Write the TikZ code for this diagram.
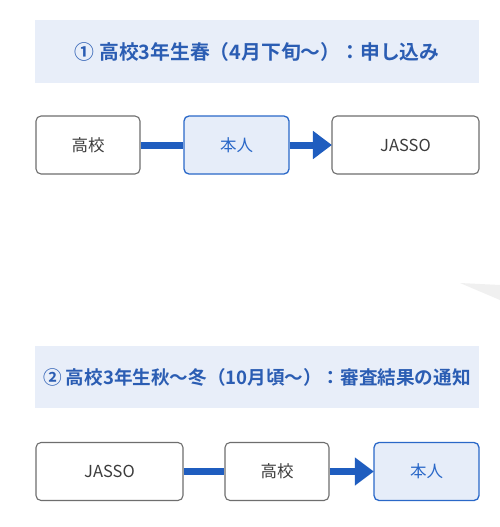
\documentclass[tikz,border=0pt]{standalone}
\usepackage{fontspec}
\setmainfont{Noto Sans CJK JP}
\newfontfamily\jpb{Noto Sans CJK JP Bold}
\usetikzlibrary{arrows.meta}
\definecolor{hdrfill}{HTML}{E8EEF9}
\definecolor{hdrtext}{HTML}{2B5DB3}
\definecolor{boxline}{HTML}{6E6E6E}
\definecolor{boxtext}{HTML}{3C3C3C}
\definecolor{bluefill}{HTML}{E6EDF9}
\definecolor{blueline}{HTML}{2A68C8}
\definecolor{arrowc}{HTML}{1F5DBF}
\tikzset{
  hdr/.style={fill=hdrfill, draw=none, minimum height=62pt, text=hdrtext, font=\jpb\fontsize{19}{22}\selectfont},
  plainbox/.style={draw=boxline, line width=1.1pt, rounded corners=5pt, fill=white, text=boxtext, font=\fontsize{16.5}{19}\selectfont, minimum height=58pt},
  bluebox/.style={draw=blueline, line width=1.3pt, rounded corners=5pt, fill=bluefill, text=blueline, font=\fontsize{16.5}{19}\selectfont, minimum height=58pt},
  link/.style={draw=arrowc, line width=7pt},
  flow/.style={draw=arrowc, line width=7pt, -{Triangle[length=19pt,width=27pt]}, shorten >=-0.5pt}
}
\begin{document}
\begin{tikzpicture}[x=1pt,y=-1pt]
\useasboundingbox (0,0) rectangle (500,527);
\fill[white] (0,0) rectangle (500,527);
% faint grey artefact
\fill[black!6] (460,283) -- (500,285) -- (500,300) -- cycle;
% section 1
\node[hdr, minimum width=444pt, font=\jpb\fontsize{19.8}{22}\selectfont] (h1) at (257,51.5) {①\hspace{5pt}高校3年生春（4月下旬～）：申し込み};
\node[plainbox, minimum width=104pt] (a1) at (88,145) {高校};
\node[bluebox, minimum width=105pt] (a2) at (236.5,145) {本人};
\node[plainbox, minimum width=147pt] (a3) at (405.5,145) {JASSO};
\draw[link] (a1.east) -- (a2.west);
\draw[flow] (a2.east) -- (a3.west);
% section 2
\node[hdr, minimum width=444pt, font=\jpb\fontsize{18.6}{22}\selectfont] (h2) at (257,377) {②\hspace{4pt}高校3年生秋～冬（10月頃～）：審査結果の通知};
\node[plainbox, minimum width=147pt] (b1) at (109.5,471.5) {JASSO};
\node[plainbox, minimum width=104pt] (b2) at (277,471.5) {高校};
\node[bluebox, minimum width=105pt] (b3) at (426.5,471.5) {本人};
\draw[link] (b1.east) -- (b2.west);
\draw[flow] (b2.east) -- (b3.west);
\end{tikzpicture}
\end{document}
